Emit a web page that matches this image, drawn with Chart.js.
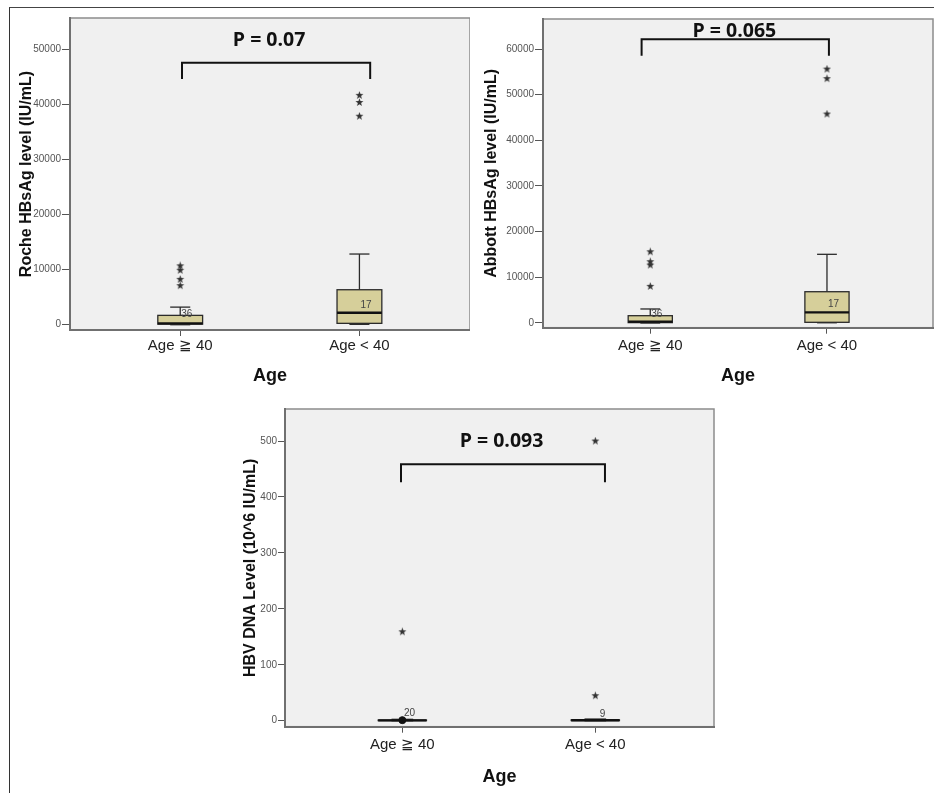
<!doctype html>
<html lang="en">
<head>
<meta charset="utf-8">
<title>HBsAg and HBV DNA levels by age</title>
<style>
  html, body { margin: 0; padding: 0; background: #fff; overflow: hidden; }
  body { width: 934px; height: 793px; position: relative; }
  #frame { position: absolute; left: 9px; top: 7px; right: -2px; bottom: -2px; border-top: 1px solid #444; border-left: 1px solid #333; }
  canvas { position: absolute; }
</style>
</head>
<body>
<div id="frame"></div>
<canvas id="roche" width="459" height="391" style="left:11px;top:9px"></canvas>
<canvas id="abbott" width="462" height="391" style="left:472px;top:9px"></canvas>
<canvas id="dna" width="500" height="393" style="left:232px;top:400px"></canvas>
<script src="https://cdn.jsdelivr.net/npm/chart.js"></script>
<script>
const groups = ['Age ≧ 40', 'Age < 40'];

// each box: [min, q1, median, q3, max]
const rocheBoxes = [[0, 100, 250, 1700, 3200], [70, 250, 2180, 6360, 12850]];
const rocheExtremes = [[10700, 9900, 8250, 7100], [41700, 40400, 37900]];
const rocheTicks = [0, 10000, 20000, 30000, 40000, 50000];
const rocheCases = [[1, 1950, '36'], [2, 3580, '17']];
const rocheBracket = [44670, 47640];

const abbottBoxes = [[0, 80, 290, 1600, 3070], [50, 150, 2340, 6850, 15040]];
const abbottExtremes = [[15600, 13420, 12700, 8030], [55600, 53500, 45760]];
const abbottTicks = [0, 10000, 20000, 30000, 40000, 50000, 60000];
const abbottCases = [[1, 1970, '36'], [2, 4090, '17']];
const abbottBracket = [58530, 62120];

const dnaBoxes = [[0, 0.2, 0.6, 1.2, 2.5], [0, 0.3, 0.8, 1.5, 3]];
const dnaExtremes = [[159], [500, 44.7]];
const dnaOutliers = [[1], []];
const dnaTicks = [0, 100, 200, 300, 400, 500];
const dnaCases = [[1, 13, '20'], [2, 11, '9']];
const dnaBracket = [426.3, 458.4];

const BOX_HALF = 0.125, CAP_HALF = 0.056;
const AXIS_FONT = 'Liberation Sans';

// small filled star used for extreme values
const star = document.createElement('canvas');
star.width = 9; star.height = 9;
(function () {
  const c = star.getContext('2d');
  c.fillStyle = '#333';
  c.beginPath();
  for (let i = 0; i < 10; i++) {
    const r = i % 2 ? 1.7 : 4.2;
    const a = -Math.PI / 2 + i * Math.PI / 5;
    c.lineTo(4.5 + r * Math.cos(a), 4.5 + r * Math.sin(a));
  }
  c.closePath();
  c.fill();
})();

function toPoints(lists) {
  const pts = [];
  lists.forEach((vals, i) => vals.forEach(v => pts.push({x: i + 1, y: v})));
  return pts;
}

function boxPlugin(boxes, cases, pText, pX, pY) {
  return {
    id: 'boxes',
    beforeDraw(chart) {
      const {ctx, chartArea: a} = chart;
      ctx.save();
      ctx.fillStyle = '#f0f0f0';
      ctx.fillRect(a.left, a.top, a.right - a.left, a.bottom - a.top);
      ctx.strokeStyle = '#8c8c8c';
      ctx.lineWidth = 1.5;
      ctx.strokeRect(a.left, a.top, a.right - a.left, a.bottom - a.top);
      ctx.restore();
    },
    beforeDatasetsDraw(chart) {
      const {ctx, scales: {x, y}} = chart;
      const line = (x1, y1, x2, y2) => { ctx.beginPath(); ctx.moveTo(x1, y1); ctx.lineTo(x2, y2); ctx.stroke(); };
      ctx.save();
      boxes.forEach((b, i) => {
        const [mn, q1, med, q3, mx] = b.map(v => y.getPixelForValue(v));
        const cx = x.getPixelForValue(i + 1);
        const hw = x.getPixelForValue(i + 1 + BOX_HALF) - cx;
        const cw = x.getPixelForValue(i + 1 + CAP_HALF) - cx;
        ctx.strokeStyle = '#2b2b2b';
        ctx.lineWidth = 1.3;
        line(cx, q3, cx, mx); line(cx - cw, mx, cx + cw, mx);
        line(cx, q1, cx, mn); line(cx - cw, mn, cx + cw, mn);
        ctx.fillStyle = '#d6cf9a';
        ctx.fillRect(cx - hw, q3, hw * 2, q1 - q3);
        ctx.strokeRect(cx - hw, q3, hw * 2, q1 - q3);
        ctx.strokeStyle = '#111';
        ctx.lineWidth = 2.3;
        line(cx - hw, med, cx + hw, med);
      });
      ctx.fillStyle = '#444';
      ctx.font = '10px ' + AXIS_FONT;
      ctx.textAlign = 'center';
      ctx.textBaseline = 'middle';
      cases.forEach(([g, v, t]) => ctx.fillText(t, x.getPixelForValue(g + 0.037), y.getPixelForValue(v)));
      ctx.restore();
    },
    afterDatasetsDraw(chart) {
      const {ctx, scales: {x, y}} = chart;
      ctx.save();
      ctx.fillStyle = '#111';
      ctx.font = 'bold 19.5px "Open Sans"';
      ctx.textAlign = 'center';
      ctx.textBaseline = 'alphabetic';
      ctx.fillText(pText, x.getPixelForValue(pX), y.getPixelForValue(pY));
      ctx.restore();
    }
  };
}

function makeChart(id, s) {
  const c = s.canvas, p = s.plot;
  const xHeight = s.xTitleY + 10.8 - p.b;
  const datasets = [
    {data: toPoints(s.extremes), pointStyle: star, pointRadius: 4.5, showLine: false},
    {data: [{x: s.bracketX[0], y: s.bracket[0]}, {x: s.bracketX[0], y: s.bracket[1]},
            {x: s.bracketX[1], y: s.bracket[1]}, {x: s.bracketX[1], y: s.bracket[0]}],
     showLine: true, borderColor: '#111', borderWidth: 2, pointRadius: 0, tension: 0}
  ];
  if (s.outliers) {
    datasets.push({data: toPoints(s.outliers), pointStyle: 'circle', pointRadius: 3.5,
                   backgroundColor: '#111', borderColor: '#111', showLine: false});
  }
  return new Chart(document.getElementById(id), {
    type: 'scatter',
    data: {datasets},
    options: {
      responsive: false,
      animation: false,
      events: [],
      layout: {autoPadding: false,
               padding: {left: 0, top: p.t - c.t, right: c.l + c.w - p.r,
                         bottom: c.t + c.h - (p.b + xHeight)}},
      plugins: {legend: {display: false}, tooltip: {enabled: false}},
      scales: {
        x: {
          type: 'linear', min: s.xMin, max: s.xMax,
          afterBuildTicks: sc => { sc.ticks = groups.map((g, i) => ({value: i + 1})); },
          afterFit: sc => { sc.height = xHeight; sc.paddingLeft = 0; sc.paddingRight = 0; },
          ticks: {callback: v => groups[Math.round(v) - 1], color: '#222',
                  font: {family: AXIS_FONT, size: 15}, padding: s.xLabelY - p.b - 9 - 6, maxRotation: 0},
          grid: {drawOnChartArea: false, tickLength: 6, color: '#555'},
          border: {color: '#707070', width: 2},
          title: {display: true, text: 'Age', color: '#111', padding: {top: 0, bottom: 0},
                  font: {family: AXIS_FONT, size: 18, weight: 'bold'}}
        },
        y: {
          min: s.yMin, max: s.yMax,
          afterBuildTicks: sc => { sc.ticks = s.ticks.map(v => ({value: v})); },
          afterFit: sc => { sc.width = p.l - c.l; sc.paddingTop = 0; sc.paddingBottom = 0; },
          ticks: {callback: v => String(v), color: '#555', font: {family: AXIS_FONT, size: 10}, padding: 1},
          grid: {drawOnChartArea: false, tickLength: s.yTickLen, color: '#555'},
          border: {color: '#707070', width: 2},
          title: {display: true, text: s.yTitle, color: '#111', padding: {top: s.yTitleX - c.l - 9.6, bottom: 0},
                  font: {family: AXIS_FONT, size: 16, weight: 'bold'}}
        }
      }
    },
    plugins: [boxPlugin(s.boxes, s.cases, s.pText, s.pX, s.pY)]
  });
}

makeChart('roche', {
  canvas: {l: 11, t: 9, w: 459, h: 391}, plot: {l: 70, t: 18, r: 470, b: 330},
  xMin: 0.385, xMax: 2.617, yMin: -960, yMax: 55760, yTickLen: 8,
  yTitle: 'Roche HBsAg level (IU/mL)', yTitleX: 27, xLabelY: 346, xTitleY: 376,
  boxes: rocheBoxes, extremes: rocheExtremes, ticks: rocheTicks, cases: rocheCases,
  bracket: rocheBracket, bracketX: [1.01, 2.06], pText: 'P = 0.07', pX: 1.496, pY: 50730
});

makeChart('abbott', {
  canvas: {l: 472, t: 9, w: 462, h: 391}, plot: {l: 543, t: 19, r: 933, b: 327.7},
  xMin: 0.393, xMax: 2.6, yMin: -1030, yMax: 66570, yTickLen: 8,
  yTitle: 'Abbott HBsAg level (IU/mL)', yTitleX: 491.7, xLabelY: 345.5, xTitleY: 376,
  boxes: abbottBoxes, extremes: abbottExtremes, ticks: abbottTicks, cases: abbottCases,
  bracket: abbottBracket, bracketX: [0.951, 2.011], pText: 'P = 0.065', pX: 1.476, pY: 62560
});

makeChart('dna', {
  canvas: {l: 232, t: 400, w: 500, h: 393}, plot: {l: 285, t: 409, r: 714, b: 726.7},
  xMin: 0.392, xMax: 2.615, yMin: -10.7, yMax: 557.3, yTickLen: 7,
  yTitle: 'HBV DNA Level (10^6 IU/mL)', yTitleX: 250.7, xLabelY: 745, xTitleY: 776.7,
  boxes: dnaBoxes, extremes: dnaExtremes, outliers: dnaOutliers, ticks: dnaTicks, cases: dnaCases,
  bracket: dnaBracket, bracketX: [0.993, 2.05], pText: 'P = 0.093', pX: 1.514, pY: 489.9
});
</script>
</body>
</html>
